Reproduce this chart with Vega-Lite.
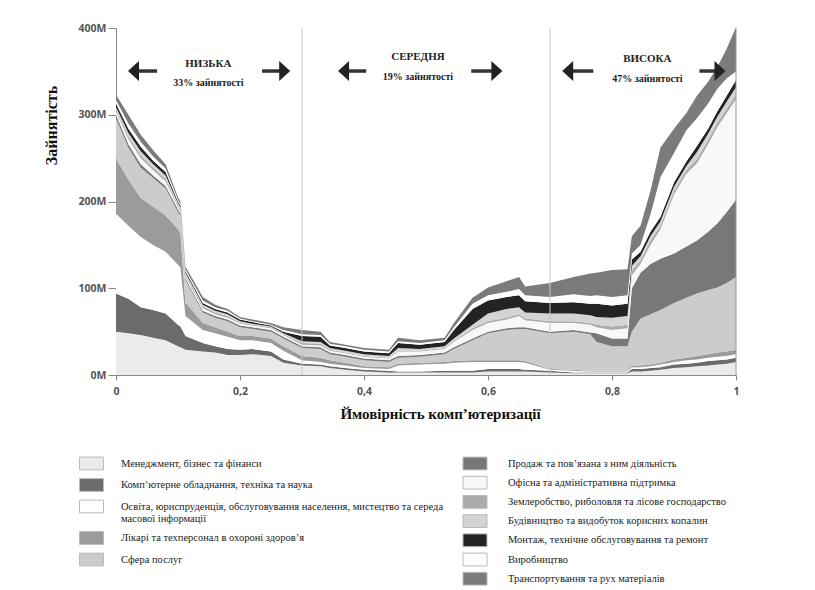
{
  "$schema": "https://vega.github.io/schema/vega-lite/v6.json",
  "width": 620,
  "height": 347,
  "autosize": {"type": "none"},
  "padding": {"left": 116, "top": 28, "right": 79, "bottom": 215},
  "background": "white",
  "config": {"view": {"stroke": null}, "font": "Liberation Serif"},
  "datasets": {
    "emp": [
      {"x":0,"a":50,"b":44,"c":92,"d":64,"e":46,"f":4,"g":4,"h":2,"i":3,"j":4,"k":4,"l":6},
      {"x":0.02,"a":48,"b":40,"c":84,"d":53,"e":37,"f":4,"g":6,"h":3,"i":4,"j":5,"k":6,"l":10},
      {"x":0.04,"a":46,"b":32,"c":81,"d":45,"e":35,"f":4,"g":7,"h":3,"i":5,"j":5,"k":6,"l":8},
      {"x":0.06,"a":43,"b":32,"c":75,"d":44,"e":33,"f":3,"g":6,"h":3,"i":4,"j":4,"k":5,"l":7},
      {"x":0.08,"a":40,"b":31,"c":71,"d":42,"e":31,"f":3,"g":5,"h":3,"i":4,"j":4,"k":4,"l":5},
      {"x":0.1,"a":33,"b":25,"c":69,"d":41,"e":20,"f":3,"g":3,"h":2,"i":2,"j":2,"k":2,"l":3},
      {"x":0.104,"a":32,"b":24,"c":68,"d":39,"e":20,"f":3,"g":3,"h":2,"i":2,"j":2,"k":2,"l":3},
      {"x":0.112,"a":29,"b":16,"c":23,"d":16,"e":26,"f":2,"g":2,"h":2,"i":2,"j":2,"k":2,"l":3},
      {"x":0.14,"a":27,"b":10,"c":15,"d":8,"e":12,"f":2,"g":3,"h":2,"i":2,"j":2,"k":3,"l":4},
      {"x":0.16,"a":26,"b":7,"c":15,"d":7,"e":11,"f":2,"g":2,"h":2,"i":2,"j":2,"k":2,"l":3},
      {"x":0.18,"a":23,"b":7,"c":14,"d":6,"e":12,"f":2,"g":2,"h":2,"i":2,"j":2,"k":2,"l":2},
      {"x":0.2,"a":23,"b":6,"c":11,"d":5,"e":10,"f":2,"g":2,"h":1,"i":2,"j":2,"k":1,"l":2},
      {"x":0.22,"a":24,"b":6,"c":10,"d":5,"e":8,"f":2,"g":2,"h":1,"i":1,"j":2,"k":1,"l":2},
      {"x":0.25,"a":22,"b":5,"c":10,"d":5,"e":8,"f":2,"g":2,"h":1,"i":1,"j":1,"k":1,"l":2},
      {"x":0.27,"a":14,"b":4,"c":10,"d":5,"e":9,"f":2,"g":2,"h":1,"i":1,"j":2,"k":2,"l":3},
      {"x":0.3,"a":11,"b":2,"c":4,"d":5,"e":9,"f":2,"g":2,"h":2,"i":2,"j":6,"k":2,"l":5},
      {"x":0.33,"a":10,"b":2,"c":3,"d":5,"e":10,"f":2,"g":2,"h":2,"i":2,"j":6,"k":2,"l":4},
      {"x":0.345,"a":8,"b":2,"c":3,"d":4,"e":7,"f":2,"g":2,"h":1,"i":2,"j":3,"k":2,"l":2},
      {"x":0.37,"a":6,"b":2,"c":3,"d":3,"e":7,"f":2,"g":2,"h":1,"i":2,"j":3,"k":2,"l":2},
      {"x":0.4,"a":4,"b":2,"c":2,"d":2,"e":7,"f":2,"g":2,"h":1,"i":2,"j":3,"k":2,"l":2},
      {"x":0.44,"a":3,"b":2,"c":2,"d":2,"e":6,"f":2,"g":2,"h":1,"i":2,"j":3,"k":2,"l":2},
      {"x":0.455,"a":3,"b":1,"c":7,"d":2,"e":7,"f":2,"g":5,"h":1,"i":3,"j":6,"k":2,"l":4},
      {"x":0.49,"a":3,"b":1,"c":8,"d":2,"e":7,"f":2,"g":4,"h":1,"i":2,"j":5,"k":2,"l":3},
      {"x":0.53,"a":3,"b":2,"c":8,"d":2,"e":9,"f":2,"g":4,"h":1,"i":2,"j":5,"k":2,"l":3},
      {"x":0.545,"a":3,"b":2,"c":9,"d":2,"e":14,"f":2,"g":6,"h":1,"i":3,"j":10,"k":3,"l":5},
      {"x":0.575,"a":3,"b":2,"c":10,"d":2,"e":23,"f":2,"g":10,"h":2,"i":4,"j":18,"k":6,"l":7},
      {"x":0.6,"a":4,"b":3,"c":8,"d":2,"e":31,"f":2,"g":10,"h":2,"i":9,"j":15,"k":6,"l":9},
      {"x":0.63,"a":4,"b":3,"c":8,"d":2,"e":35,"f":2,"g":10,"h":2,"i":10,"j":14,"k":6,"l":12},
      {"x":0.65,"a":4,"b":3,"c":8,"d":2,"e":36,"f":2,"g":13,"h":2,"i":8,"j":14,"k":7,"l":14},
      {"x":0.66,"a":4,"b":2,"c":8,"d":2,"e":37,"f":2,"g":8,"h":2,"i":7,"j":13,"k":7,"l":10},
      {"x":0.7,"a":3,"b":2,"c":1,"d":1,"e":41,"f":2,"g":10,"h":2,"i":9,"j":12,"k":7,"l":16},
      {"x":0.738,"a":2,"b":1,"c":2,"d":1,"e":44,"f":2,"g":8,"h":2,"i":9,"j":13,"k":9,"l":20},
      {"x":0.765,"a":2,"b":1,"c":1,"d":1,"e":42,"f":2,"g":9,"h":2,"i":9,"j":13,"k":9,"l":26},
      {"x":0.775,"a":2,"b":1,"c":1,"d":1,"e":33,"f":10,"g":7,"h":3,"i":9,"j":15,"k":10,"l":26},
      {"x":0.8,"a":2,"b":1,"c":1,"d":1,"e":28,"f":9,"g":10,"h":4,"i":10,"j":14,"k":10,"l":31},
      {"x":0.825,"a":2,"b":1,"c":1,"d":1,"e":28,"f":9,"g":12,"h":4,"i":10,"j":14,"k":10,"l":30},
      {"x":0.832,"a":4,"b":3,"c":2,"d":2,"e":39,"f":50,"g":15,"h":5,"i":6,"j":7,"k":7,"l":20},
      {"x":0.846,"a":4,"b":3,"c":2,"d":2,"e":54,"f":53,"g":10,"h":4,"i":5,"j":5,"k":8,"l":22},
      {"x":0.862,"a":5,"b":3,"c":2,"d":2,"e":58,"f":58,"g":22,"h":5,"i":5,"j":5,"k":20,"l":27},
      {"x":0.878,"a":6,"b":3,"c":3,"d":2,"e":61,"f":59,"g":34,"h":4,"i":5,"j":5,"k":46,"l":34},
      {"x":0.9,"a":8,"b":4,"c":3,"d":3,"e":65,"f":57,"g":68,"h":4,"i":5,"j":5,"k":34,"l":28},
      {"x":0.92,"a":9,"b":4,"c":4,"d":3,"e":69,"f":59,"g":84,"h":4,"i":5,"j":5,"k":36,"l":20},
      {"x":0.937,"a":10,"b":4,"c":4,"d":4,"e":72,"f":61,"g":89,"h":5,"i":8,"j":7,"k":32,"l":26},
      {"x":0.955,"a":11,"b":5,"c":4,"d":4,"e":74,"f":67,"g":101,"h":5,"i":7,"j":6,"k":29,"l":25},
      {"x":0.97,"a":12,"b":5,"c":4,"d":5,"e":75,"f":74,"g":111,"h":5,"i":7,"j":6,"k":26,"l":25},
      {"x":0.985,"a":13,"b":5,"c":4,"d":5,"e":79,"f":82,"g":114,"h":5,"i":8,"j":7,"k":20,"l":34},
      {"x":1,"a":15,"b":5,"c":4,"d":5,"e":84,"f":89,"g":116,"h":5,"i":9,"j":8,"k":10,"l":51}
    ],
    "cats": [
      {"cat":"a","name":"Менеджмент, бізнес та фінанси","o":1},
      {"cat":"b","name":"Комп’ютерне обладнання, техніка та наука","o":2},
      {"cat":"c","name":"Освіта, юриспруденція, обслуговування населення, мистецтво та середа масової інформації","o":3},
      {"cat":"d","name":"Лікарі та техперсонал в охороні здоров’я","o":4},
      {"cat":"e","name":"Сфера послуг","o":5},
      {"cat":"f","name":"Продаж та пов’язана з ним діяльність","o":6},
      {"cat":"g","name":"Офісна та адміністративна підтримка","o":7},
      {"cat":"h","name":"Землеробство, риболовля та лісове господарство","o":8},
      {"cat":"i","name":"Будівництво та видобуток корисних копалин","o":9},
      {"cat":"j","name":"Монтаж, технічне обслуговування та ремонт","o":10},
      {"cat":"k","name":"Виробництво","o":11},
      {"cat":"l","name":"Транспортування та рух матеріалів","o":12}
    ]
  },
  "layer": [
    {
      "data": {"name": "emp"},
      "transform": [
        {"fold": ["a","b","c","d","e","f","g","h","i","j","k","l"], "as": ["cat","val"]},
        {"lookup": "cat", "from": {"data": {"name": "cats"}, "key": "cat", "fields": ["name","o"]}},
        {"stack": "val", "groupby": ["x"], "sort": [{"field": "o", "order": "ascending"}], "as": ["y0","y1"]},
        {"filter": "datum.o <= 5"}
      ],
      "mark": {"type": "area", "interpolate": "linear", "opacity": 1},
      "encoding": {
        "x": {"field": "x", "type": "quantitative", "scale": {"domain": [0, 1], "nice": false},
          "axis": {"title": "Ймовірність комп’ютеризації", "values": [0, 0.2, 0.4, 0.6, 0.8, 1],
            "labelExpr": "replace(format(datum.value, '.1~f'), '.', ',')", "labelFlush": false,
            "labelFont": "Open Sans", "labelFontWeight": "bold", "labelFontSize": 10.5, "labelColor": "#555",
            "tickSize": 5, "tickColor": "#888", "domainColor": "#888", "grid": false, "labelPadding": 6,
            "titleFont": "Liberation Serif", "titleFontSize": 15, "titleFontWeight": "bold", "titleColor": "#111",
            "titleX": 324, "titleY": 43, "titleAlign": "center", "titleBaseline": "alphabetic"}},
        "y": {"field": "y1", "type": "quantitative", "scale": {"domain": [0, 400], "nice": false},
          "axis": {"title": "Зайнятість", "values": [0, 100, 200, 300, 400], "labelExpr": "datum.value + 'M'",
            "labelFont": "Open Sans", "labelFontWeight": "bold", "labelFontSize": 10.5, "labelColor": "#555",
            "tickSize": 8, "tickColor": "#888", "domainColor": "#888", "grid": false, "labelPadding": 2,
            "titleFont": "Liberation Serif", "titleFontSize": 16, "titleFontWeight": "bold", "titleColor": "#111",
            "titleX": -65, "titleY": 97, "titleAngle": -90, "titleAlign": "center", "titleBaseline": "middle"}},
        "y2": {"field": "y0"},
        "color": {"field": "name", "type": "nominal",
          "scale": {"domain": ["Менеджмент, бізнес та фінанси", "Комп’ютерне обладнання, техніка та наука", "Освіта, юриспруденція, обслуговування населення, мистецтво та середа масової інформації", "Лікарі та техперсонал в охороні здоров’я", "Сфера послуг"],
            "range": ["#ebebeb", "#6b6b6b", "#ffffff", "#9b9b9b", "#cccccc"]},
          "legend": {"orient": "none", "legendX": -33, "legendY": 427, "title": null,
            "symbolType": "M-1.5,-0.8H1.5V0.8H-1.5Z", "symbolSize": 256, "symbolStrokeColor": "#bbb", "symbolStrokeWidth": 1,
            "labelFont": "Liberation Serif", "labelFontSize": 10.5, "labelColor": "#222", "labelOffset": 21, "labelLimit": 500,
            "rowPadding": 4.5,
            "labelExpr": "datum.label == 'Освіта, юриспруденція, обслуговування населення, мистецтво та середа масової інформації' ? ['Освіта, юриспруденція, обслуговування населення, мистецтво та середа', 'масової інформації'] : datum.label"}}
      }
    },
    {
      "data": {"name": "emp"},
      "transform": [
        {"fold": ["a","b","c","d","e","f","g","h","i","j","k","l"], "as": ["cat","val"]},
        {"lookup": "cat", "from": {"data": {"name": "cats"}, "key": "cat", "fields": ["name","o"]}},
        {"stack": "val", "groupby": ["x"], "sort": [{"field": "o", "order": "ascending"}], "as": ["y0","y1"]},
        {"filter": "datum.o >= 6"}
      ],
      "mark": {"type": "area", "interpolate": "linear", "opacity": 1},
      "encoding": {
        "x": {"field": "x", "type": "quantitative"},
        "y": {"field": "y1", "type": "quantitative"},
        "y2": {"field": "y0"},
        "color": {"field": "name", "type": "nominal",
          "scale": {"domain": ["Продаж та пов’язана з ним діяльність", "Офісна та адміністративна підтримка", "Землеробство, риболовля та лісове господарство", "Будівництво та видобуток корисних копалин", "Монтаж, технічне обслуговування та ремонт", "Виробництво", "Транспортування та рух матеріалів"],
            "range": ["#787878", "#f8f8f8", "#ababab", "#d4d4d4", "#232323", "#ffffff", "#7b7b7b"]},
          "legend": {"orient": "none", "legendX": 350.5, "legendY": 427, "title": null,
            "symbolType": "M-1.5,-0.8H1.5V0.8H-1.5Z", "symbolSize": 256, "symbolStrokeColor": "#bbb", "symbolStrokeWidth": 1,
            "labelFont": "Liberation Serif", "labelFontSize": 10.5, "labelColor": "#222", "labelOffset": 24.5, "labelLimit": 500,
            "rowPadding": 2.2}}
      }
    },
    {
      "data": {"values": [{"x": 0.3}, {"x": 0.7}]},
      "mark": {"type": "rule", "color": "#c8c8c8", "strokeWidth": 1},
      "encoding": {"x": {"field": "x", "type": "quantitative"}}
    },
    {
      "data": {"values": [{"x": 1}]},
      "mark": {"type": "rule", "color": "#999", "strokeWidth": 1},
      "encoding": {"x": {"field": "x", "type": "quantitative"}}
    },
    {
      "data": {"values": [
        {"x": 0.0662, "x2": 0.0282, "y": 350.4},
        {"x": 0.2356, "x2": 0.2721, "y": 350.4},
        {"x": 0.4035, "x2": 0.367, "y": 350.4},
        {"x": 0.573, "x2": 0.6143, "y": 350.4},
        {"x": 0.7698, "x2": 0.7285, "y": 350.4},
        {"x": 0.941, "x2": 0.9742, "y": 350.4}
      ]},
      "mark": {"type": "rule", "color": "#333", "strokeWidth": 3.5},
      "encoding": {
        "x": {"field": "x", "type": "quantitative"},
        "x2": {"field": "x2"},
        "y": {"field": "y", "type": "quantitative"}
      }
    },
    {
      "data": {"values": [
        {"x": 0.0282, "y": 350.4, "d": "l"},
        {"x": 0.2721, "y": 350.4, "d": "r"},
        {"x": 0.367, "y": 350.4, "d": "l"},
        {"x": 0.6143, "y": 350.4, "d": "r"},
        {"x": 0.7285, "y": 350.4, "d": "l"},
        {"x": 0.9742, "y": 350.4, "d": "r"}
      ]},
      "mark": {"type": "point", "filled": true, "color": "#222", "opacity": 1, "size": 400},
      "encoding": {
        "x": {"field": "x", "type": "quantitative"},
        "y": {"field": "y", "type": "quantitative"},
        "shape": {"field": "d", "type": "nominal", "legend": null,
          "scale": {"domain": ["l", "r"], "range": ["M-0.55,0L0.55,-1L0.55,1Z", "M0.55,0L-0.55,-1L-0.55,1Z"]}}
      }
    },
    {
      "data": {"values": [
        {"x": 0.149, "y": 358.5, "t": "НИЗЬКА"},
        {"x": 0.487, "y": 366.6, "t": "СЕРЕДНЯ"},
        {"x": 0.857, "y": 364.3, "t": "ВИСОКА"}
      ]},
      "mark": {"type": "text", "font": "Liberation Serif", "fontWeight": "bold", "fontSize": 11, "color": "#222", "baseline": "middle", "align": "center"},
      "encoding": {
        "x": {"field": "x", "type": "quantitative"},
        "y": {"field": "y", "type": "quantitative"},
        "text": {"field": "t"}
      }
    },
    {
      "data": {"values": [
        {"x": 0.149, "y": 336.6, "t": "33% зайнятості"},
        {"x": 0.487, "y": 343.5, "t": "19% зайнятості"},
        {"x": 0.857, "y": 341.2, "t": "47% зайнятості"}
      ]},
      "mark": {"type": "text", "font": "Liberation Serif", "fontWeight": "bold", "fontSize": 10, "color": "#222", "baseline": "middle", "align": "center"},
      "encoding": {
        "x": {"field": "x", "type": "quantitative"},
        "y": {"field": "y", "type": "quantitative"},
        "text": {"field": "t"}
      }
    }
  ],
  "resolve": {"scale": {"color": "independent"}}
}
